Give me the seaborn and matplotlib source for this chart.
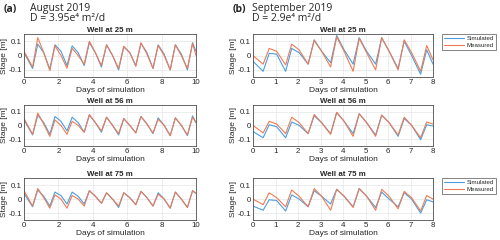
import numpy as np
import pandas as pd
import matplotlib.pyplot as plt
import seaborn as sns

# Global configs
sns.set_style('whitegrid')
plt.rcParams['font.family'] = ['Liberation Sans', 'DejaVu Sans']

# ========== Data ==========
days_aug = [0, 0.5, 0.8, 1.15, 1.5, 1.8, 2.15, 2.5, 2.8, 3.15, 3.5, 3.8, 4.15, 4.5, 4.8,
            5.15, 5.5, 5.8, 6.15, 6.5, 6.8, 7.15, 7.5, 7.8, 8.15, 8.5, 8.8, 9.15, 9.5, 9.8, 10]
days_sep = [0, 0.45, 0.72, 1.05, 1.45, 1.72, 2.05, 2.45, 2.72, 3.05, 3.45, 3.72, 4.05,
            4.45, 4.72, 5.05, 5.45, 5.72, 6.05, 6.45, 6.72, 7.05, 7.45, 7.72, 8]

# August 2019
aug_sim_25 = [0.02, -0.09, 0.08, 0.02, -0.095, 0.075, 0.03, -0.07, 0.068, 0.02, -0.07, 0.09,
              0.02, -0.08, 0.075, 0.0, -0.1, 0.06, 0.02, -0.07, 0.085, 0.02, -0.09, 0.075,
              0.01, -0.1, 0.075, 0.01, -0.1, 0.09, 0.03]
aug_meas_25 = [0.03, -0.08, 0.125, 0.02, -0.105, 0.068, 0.0, -0.088, 0.05, 0.0, -0.06, 0.1,
               0.02, -0.07, 0.075, 0.0, -0.09, 0.065, 0.02, -0.075, 0.09, 0.01, -0.09, 0.07,
               0.0, -0.1, 0.075, 0.0, -0.09, 0.085, 0.0]
aug_sim_56 = [0.04, -0.07, 0.075, 0.02, -0.065, 0.065, 0.03, -0.04, 0.06, 0.02, -0.05, 0.075,
              0.02, -0.05, 0.06, 0.0, -0.07, 0.05, 0.0, -0.055, 0.065, 0.01, -0.06, 0.055,
              0.0, -0.075, 0.055, 0.0, -0.075, 0.07, 0.02]
aug_meas_56 = [0.05, -0.065, 0.09, 0.01, -0.08, 0.04, 0.0, -0.065, 0.03, 0.0, -0.05, 0.08,
               0.02, -0.04, 0.06, 0.0, -0.06, 0.05, 0.0, -0.055, 0.065, 0.01, -0.055, 0.045,
               0.0, -0.075, 0.055, 0.0, -0.07, 0.06, 0.02]
aug_sim_75 = [0.04, -0.055, 0.065, 0.02, -0.05, 0.05, 0.025, -0.035, 0.05, 0.02, -0.035, 0.06,
              0.02, -0.03, 0.045, 0.0, -0.06, 0.045, 0.01, -0.04, 0.055, 0.01, -0.05, 0.045,
              0.0, -0.065, 0.05, 0.0, -0.06, 0.06, 0.04]
aug_meas_75 = [0.06, -0.05, 0.075, 0.01, -0.065, 0.03, 0.0, -0.065, 0.025, 0.0, -0.05, 0.06,
               0.02, -0.03, 0.045, 0.0, -0.05, 0.045, 0.01, -0.04, 0.055, 0.01, -0.05, 0.035,
               0.0, -0.065, 0.05, 0.0, -0.06, 0.06, 0.04]

# September 2019
sep_sim_25 = [-0.04, -0.11, 0.015, 0.01, -0.11, 0.05, 0.02, -0.06, 0.11, 0.03, -0.05, 0.14,
              0.04, -0.06, 0.125, 0.03, -0.06, 0.125, 0.03, -0.09, 0.1, 0.0, -0.13, 0.04, -0.06]
sep_meas_25 = [0.0, -0.06, 0.05, 0.03, -0.065, 0.08, 0.04, -0.06, 0.105, 0.03, -0.08, 0.13,
               0.03, -0.11, 0.12, 0.02, -0.1, 0.125, 0.03, -0.1, 0.11, 0.02, -0.11, 0.07, -0.03]
sep_sim_56 = [-0.045, -0.09, 0.005, -0.01, -0.09, 0.025, 0.0, -0.06, 0.07, 0.02, -0.06, 0.095,
              0.03, -0.06, 0.085, 0.02, -0.07, 0.075, 0.02, -0.08, 0.05, 0.0, -0.105, 0.005, -0.005]
sep_meas_56 = [0.0, -0.055, 0.03, 0.01, -0.06, 0.06, 0.02, -0.06, 0.08, 0.02, -0.065, 0.095,
               0.03, -0.08, 0.085, 0.02, -0.08, 0.075, 0.02, -0.07, 0.06, 0.0, -0.09, 0.025, 0.01]
sep_sim_75 = [-0.05, -0.08, -0.005, -0.01, -0.085, 0.03, 0.0, -0.055, 0.06, 0.02, -0.035, 0.07,
              0.02, -0.055, 0.075, 0.02, -0.06, 0.05, 0.0, -0.055, 0.045, 0.0, -0.1, -0.005, -0.02]
sep_meas_75 = [0.0, -0.04, 0.045, 0.01, -0.055, 0.065, 0.02, -0.055, 0.075, 0.02, -0.08, 0.07,
               0.02, -0.06, 0.075, 0.02, -0.08, 0.07, 0.02, -0.07, 0.055, 0.01, -0.085, 0.025, 0.0]

wells = ['Well at 25 m', 'Well at 56 m', 'Well at 75 m']
panels = [
    [(days_aug, aug_sim_25, aug_meas_25), (days_sep, sep_sim_25, sep_meas_25)],
    [(days_aug, aug_sim_56, aug_meas_56), (days_sep, sep_sim_56, sep_meas_56)],
    [(days_aug, aug_sim_75, aug_meas_75), (days_sep, sep_sim_75, sep_meas_75)],
]
palette = {'Simulated': '#4a9ee0', 'Measured': '#ef7b55'}

# ========== Layout ==========
fig = plt.figure(figsize=(5, 2.4), dpi=100)
col_left = [0.048, 0.506]
col_width = [0.344, 0.36]
row_bottom = [0.679, 0.392, 0.083]
row_height = [0.179, 0.171, 0.175]
fs = 5.7

for r in range(3):
    for c in range(2):
        days, sim, meas = panels[r][c]
        ax = fig.add_axes([col_left[c], row_bottom[r], col_width[c], row_height[r]])
        df = pd.DataFrame({
            'day': days + days,
            'stage': sim + meas,
            'series': ['Simulated'] * len(days) + ['Measured'] * len(days),
        })
        sns.lineplot(data=df, x='day', y='stage', hue='series', palette=palette,
                     estimator=None, linewidth=0.8, legend=False, ax=ax)
        xmax = days[-1]
        ax.set_xlim(0, xmax)
        ax.set_ylim(-0.15, 0.15)
        ax.set_xticks(range(0, int(xmax) + 1, 2 if c == 0 else 1))
        ax.set_yticks([-0.1, 0, 0.1])
        ax.set_yticklabels(['-0.1', '0', '0.1'])
        ax.set_title(wells[r], fontsize=fs, fontweight='bold', pad=1.2)
        ax.set_xlabel('Days of simulation', fontsize=fs + 0.3, labelpad=0.6)
        ax.set_ylabel('Stage [m]', fontsize=fs + 0.3, labelpad=0.3)
        ax.tick_params(labelsize=fs, direction='in', length=2, pad=1.4, color='0.3')
        ax.grid(color='0.9', linewidth=0.5)
        for s in ax.spines.values():
            s.set_color('0.3')
            s.set_linewidth(0.6)
        if c == 1 and r != 1:
            handles = [plt.Line2D([], [], color=palette[k], linewidth=0.8) for k in palette]
            leg = ax.legend(handles, list(palette), loc='upper left', bbox_to_anchor=(1.05, 1.0),
                            fontsize=4.4, frameon=True, fancybox=False, handlelength=3.2,
                            borderpad=0.35, labelspacing=0.25, handletextpad=0.5, borderaxespad=0)
            leg.get_frame().set_edgecolor('0.3')
            leg.get_frame().set_linewidth(0.6)

# ========== Header text ==========
hdr = ['Open Sans', 'DejaVu Sans']
fig.text(0.008, 0.962, '(a)', fontsize=7.5, fontweight='bold', family=hdr, va='center')
fig.text(0.06, 0.965, 'August 2019', fontsize=7.5, family=hdr, va='center')
fig.text(0.06, 0.922, 'D = 3.95e\u2074 m\u00b2/d', fontsize=7.5, family=hdr, va='center')
fig.text(0.466, 0.962, '(b)', fontsize=7.5, fontweight='bold', family=hdr, va='center')
fig.text(0.504, 0.965, 'September 2019', fontsize=7.5, family=hdr, va='center')
fig.text(0.504, 0.922, 'D = 2.9e\u2074 m\u00b2/d', fontsize=7.5, family=hdr, va='center')

fig.savefig('out.png', dpi=100)
